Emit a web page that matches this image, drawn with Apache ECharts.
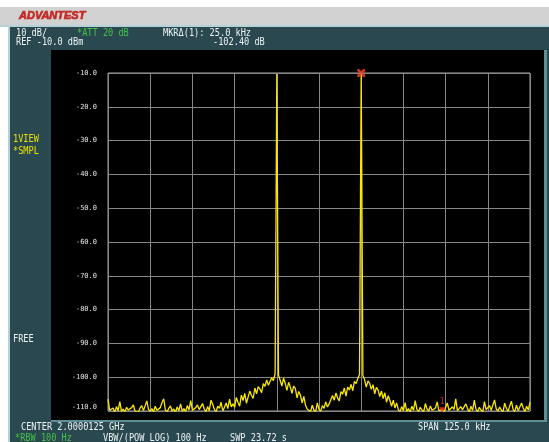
<!DOCTYPE html>
<html>
<head>
<meta charset="utf-8">
<script src="https://cdn.jsdelivr.net/npm/echarts@6.0.0/dist/echarts.min.js"></script>
<style>
  html, body { margin: 0; padding: 0; background: #fff; }
  #chart { width: 549px; height: 442px; }
</style>
</head>
<body>
<div id="chart"></div>
<script>
// sweep: -62.5 kHz .. +62.5 kHz around centre, one reading every 0.5 kHz
const freqStart = -62.5
const freqStep = 0.5

// trace readings in dBm left to right
const traceDb = [
  // noise floor
  -106.5, -109.8, -110.2, -109.1, -110.4, -108.7, -109.9, -107.2, -110.1, -109.4, -110.3, -108.9, -109.7, -110.2, -109.0, -108.2, -110.0, -109.6, -110.4, -109.1, -108.4, -109.9, -110.2, -107.0, -109.5,
  -110.1, -109.3, -110.3, -108.6, -109.8, -110.2, -109.0, -107.5, -106.4, -109.7, -110.3, -109.2, -108.5, -110.0, -109.4, -110.4, -108.8, -109.9, -107.9, -110.1, -109.3, -110.2, -108.4, -109.7, -106.9,
  -109.8, -110.3, -109.0, -108.2, -109.6, -110.1, -107.8, -109.4, -110.2, -108.7, -109.9, -106.8, -108.0, -109.5, -110.3, -108.6, -109.2, -107.4, -110.0, -108.9, -107.6, -109.3, -106.5, -108.8, -107.9,
  // skirt of lower tone
  -108.9, -106.0, -107.4, -108.6, -105.3, -106.9, -104.8, -107.7, -105.9, -104.1, -105.4, -106.3, -103.2, -104.9, -102.8, -103.5, -104.6, -101.9, -102.7, -100.8, -102.4, -101.3, -100.2, -101.0, -98.9,
  -10.3,
  -99.4, -100.9, -102.6, -100.3, -101.8, -103.9, -101.5, -102.9, -104.8, -102.6, -103.4, -106.1, -104.2, -105.3, -107.6, -105.7, -108.3, -109.4,
  // between tones
  -109.8, -110.2, -108.3, -109.7, -110.3, -107.6, -109.5, -110.1, -108.4, -109.2, -107.3, -108.8, -107.9,
  // skirt of upper tone
  -107.9, -105.4, -106.8, -104.7, -106.1, -107.0, -104.3, -105.0, -103.2, -105.6, -102.9, -103.8, -102.1, -104.0, -101.2, -101.9, -100.4, -99.1,
  -10.0,
  -99.5, -100.7, -102.9, -101.1, -101.8, -103.6, -102.2, -104.9, -103.0, -103.8, -105.7, -104.1, -106.3, -104.6, -107.4, -105.5, -106.9, -108.6, -106.8, -109.1, -107.6,
  // noise floor
  -109.6, -110.2, -108.7, -109.9, -107.5, -110.1, -109.3, -110.4, -108.6, -109.8, -106.9, -109.5, -110.2, -108.9, -109.7, -110.3, -107.8, -109.4, -110.0, -108.5, -109.8, -110.3, -109.1, -107.3, -109.9,
  -110.2, -109.6, -110.4, -109.0, -107.6, -109.8, -110.2, -108.8, -109.5, -106.4, -109.9, -110.3, -108.7, -109.6, -110.1, -107.9, -109.3, -110.4, -108.6, -109.8, -106.8, -109.5, -110.2, -108.9, -109.7,
  -110.3, -107.2, -109.6, -110.1, -108.4, -109.8, -110.2, -106.7, -109.4, -110.0, -108.8, -109.7, -110.3, -107.7, -109.2, -110.1, -108.5, -107.1, -109.6, -110.2, -108.3, -109.9, -110.4, -107.6, -109.1,
  -110.2, -108.6, -109.7, -107.4,
]

const deltaMarker = [12.5, -10.0]
const refMarker = [36.5, -109.6]

const headerTexts = [
  { text: '10 dB/', x: 16, y: 33, color: '#eef4f4' },
  { text: '*ATT 20 dB', x: 77, y: 33, color: '#44c444' },
  { text: 'MKR\u0394(1): 25.0 kHz', x: 163, y: 33, color: '#eef4f4' },
  { text: 'REF -10.0 dBm', x: 16, y: 42, color: '#eef4f4' },
  { text: '-102.40 dB', x: 213, y: 42, color: '#eef4f4' },
  { text: '1VIEW', x: 13, y: 139, color: '#e8e000' },
  { text: '*SMPL', x: 13, y: 151, color: '#e8e000' },
  { text: 'FREE', x: 13, y: 339, color: '#eef4f4' },
  { text: 'CENTER 2.0000125 GHz', x: 21, y: 427, color: '#eef4f4' },
  { text: 'SPAN 125.0 kHz', x: 418, y: 427, color: '#eef4f4' },
  { text: '*RBW 100 Hz', x: 15, y: 438, color: '#44c444' },
  { text: 'VBW/(POW LOG) 100 Hz', x: 103, y: 438, color: '#eef4f4' },
  { text: 'SWP 23.72 s', x: 230, y: 438, color: '#eef4f4' },
]

function rect(x, y, w, h, fill) {
  return { type: 'rect', silent: true, z: -10, shape: { x, y, width: w, height: h }, style: { fill } }
}

function screenText(t) {
  return {
    type: 'text', silent: true, z: 20,
    x: t.x, y: t.y, scaleX: 0.86,
    style: { text: t.text, fill: t.color, font: '10px "DejaVu Sans Mono"', verticalAlign: 'middle' },
  }
}

const chart = echarts.init(document.getElementById('chart'))

chart.setOption({
  animation: false,
  backgroundColor: '#ffffff',
  graphic: [
    rect(0, 7, 549, 18, '#d2d2d2'),
    rect(0, 25, 549, 2, '#b4d2d8'),
    rect(10, 27, 539, 415, '#2a4850'),
    rect(8, 27, 2, 415, '#b4d2d8'),
    rect(51, 50, 493, 370, '#000000'),
    rect(544, 50, 3, 372, '#5f8e95'),
    rect(51, 420, 496, 2, '#5f8e95'),
    {
      type: 'text', silent: true, z: 20, x: 19, y: 16,
      style: {
        text: 'ADVANTEST', fill: '#c42a26', stroke: '#c42a26', lineWidth: 0.7,
        font: 'italic bold 11px "Liberation Sans"', verticalAlign: 'middle',
      },
    },
    ...headerTexts.map(screenText),
  ],
  grid: {
    left: 108, top: 73, width: 422, height: 338,
    show: true, borderColor: '#a4a4a4', borderWidth: 1, backgroundColor: 'transparent',
  },
  xAxis: {
    type: 'value', min: -62.5, max: 62.5, interval: 12.5,
    axisLine: { show: false }, axisTick: { show: false }, axisLabel: { show: false },
    splitLine: { lineStyle: { color: '#878787', width: 1 } },
  },
  yAxis: {
    type: 'value', min: -110, max: -10, interval: 10,
    axisLine: { show: false }, axisTick: { show: false },
    axisLabel: {
      color: '#e4e4e4', fontFamily: 'DejaVu Sans Mono', fontSize: 7, margin: 11,
      formatter: v => v.toFixed(1),
      verticalAlignMinLabel: 'bottom',
    },
    splitLine: { lineStyle: { color: '#878787', width: 1 } },
  },
  series: [
    {
      type: 'line',
      data: traceDb.map((v, i) => [freqStart + i * freqStep, v]),
      showSymbol: false,
      lineStyle: { color: '#fbe800', width: 1.3 },
      z: 3,
    },
    {
      type: 'scatter',
      data: [deltaMarker],
      symbol: 'path://M0,0 L2.5,0 L5,2.5 L7.5,0 L10,0 L10,2.5 L7.5,5 L10,7.5 L10,10 L7.5,10 L5,7.5 L2.5,10 L0,10 L0,7.5 L2.5,5 L0,2.5Z',
      symbolSize: 8,
      itemStyle: { color: '#ff4424' },
      z: 5,
    },
    {
      type: 'scatter',
      data: [refMarker],
      symbol: 'triangle', symbolRotate: 180, symbolSize: [6, 5],
      itemStyle: { color: '#ff3020' },
      label: {
        show: true, position: 'top', distance: 1, formatter: '1',
        color: '#ff3020', fontSize: 8, fontFamily: 'DejaVu Sans Mono',
      },
      z: 5,
    },
  ],
})
</script>
</body>
</html>
